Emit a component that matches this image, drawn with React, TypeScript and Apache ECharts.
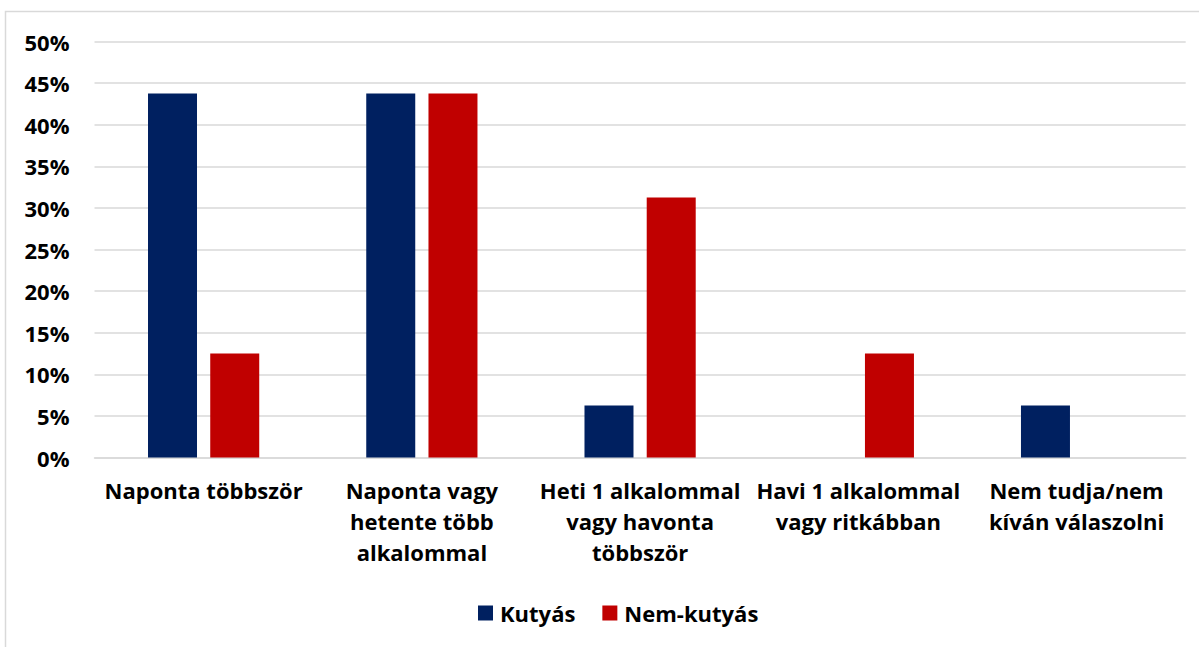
import React, { useEffect, useRef } from "react";
import * as echarts from "echarts";

const categories = [
  "Naponta többször",
  "Naponta vagy\nhetente több\nalkalommal",
  "Heti 1 alkalommal\nvagy havonta\ntöbbször",
  "Havi 1 alkalommal\nvagy ritkábban",
  "Nem tudja/nem\nkíván válaszolni",
];
const kutyas = [43.75, 43.75, 6.25, 0, 6.25];
const nemKutyas = [12.5, 43.75, 31.25, 12.5, 0];
const seriesNames = ["Kutyás", "Nem-kutyás"];

const FONT = "'Open Sans', 'Noto Sans', sans-serif";

export default function App() {
  const ref = useRef<HTMLDivElement>(null);
  useEffect(() => {
    if (!ref.current) return;
    const chart = echarts.init(ref.current, undefined, { renderer: "svg" });
    chart.setOption({
      animation: false,
      backgroundColor: "#ffffff",
      textStyle: { fontFamily: FONT },
      graphic: [
        {
          type: "rect",
          shape: { x: 5.5, y: 11.5, width: 1220, height: 700 },
          style: { fill: "none", stroke: "#d9d9d9", lineWidth: 1.5 },
          silent: true,
        },
      ],
      grid: { left: 94.5, right: 13.3, top: 41.5, bottom: 189.5, containLabel: false },
      legend: {
        data: seriesNames,
        left: 473,
        top: 597,
        itemWidth: 15,
        itemHeight: 15,
        itemGap: 27,
        icon: "rect",
        textStyle: { fontFamily: FONT, fontSize: 22, fontWeight: "bold", color: "#000", padding: [0, 0, 0, 2] },
      },
      xAxis: {
        type: "category",
        data: categories,
        axisLine: { lineStyle: { color: "#d9d9d9", width: 1.5 } },
        axisTick: { show: false },
        axisLabel: {
          interval: 0,
          margin: 17,
          fontFamily: FONT,
          fontSize: 22,
          fontWeight: "bold",
          color: "#000",
          lineHeight: 31,
          align: "center",
        },
      },
      yAxis: {
        type: "value",
        min: 0,
        max: 50,
        interval: 5,
        axisLine: { show: false },
        axisTick: { show: false },
        splitLine: { lineStyle: { color: "#d9d9d9", width: 1.5 } },
        axisLabel: {
          formatter: "{value}%",
          margin: 25,
          fontFamily: FONT,
          fontSize: 22,
          fontWeight: "bold",
          color: "#000",
        },
      },
      series: [
        {
          name: seriesNames[0],
          type: "bar",
          data: kutyas,
          barWidth: 49,
          barGap: "27%",
          itemStyle: { color: "#002060" },
        },
        {
          name: seriesNames[1],
          type: "bar",
          data: nemKutyas,
          barWidth: 49,
          itemStyle: { color: "#c00000" },
        },
      ],
    });
    return () => chart.dispose();
  }, []);
  return (
    <div
      ref={ref}
      style={{ position: "fixed", left: 0, top: 0, width: 1199, height: 647 }}
    />
  );
}
